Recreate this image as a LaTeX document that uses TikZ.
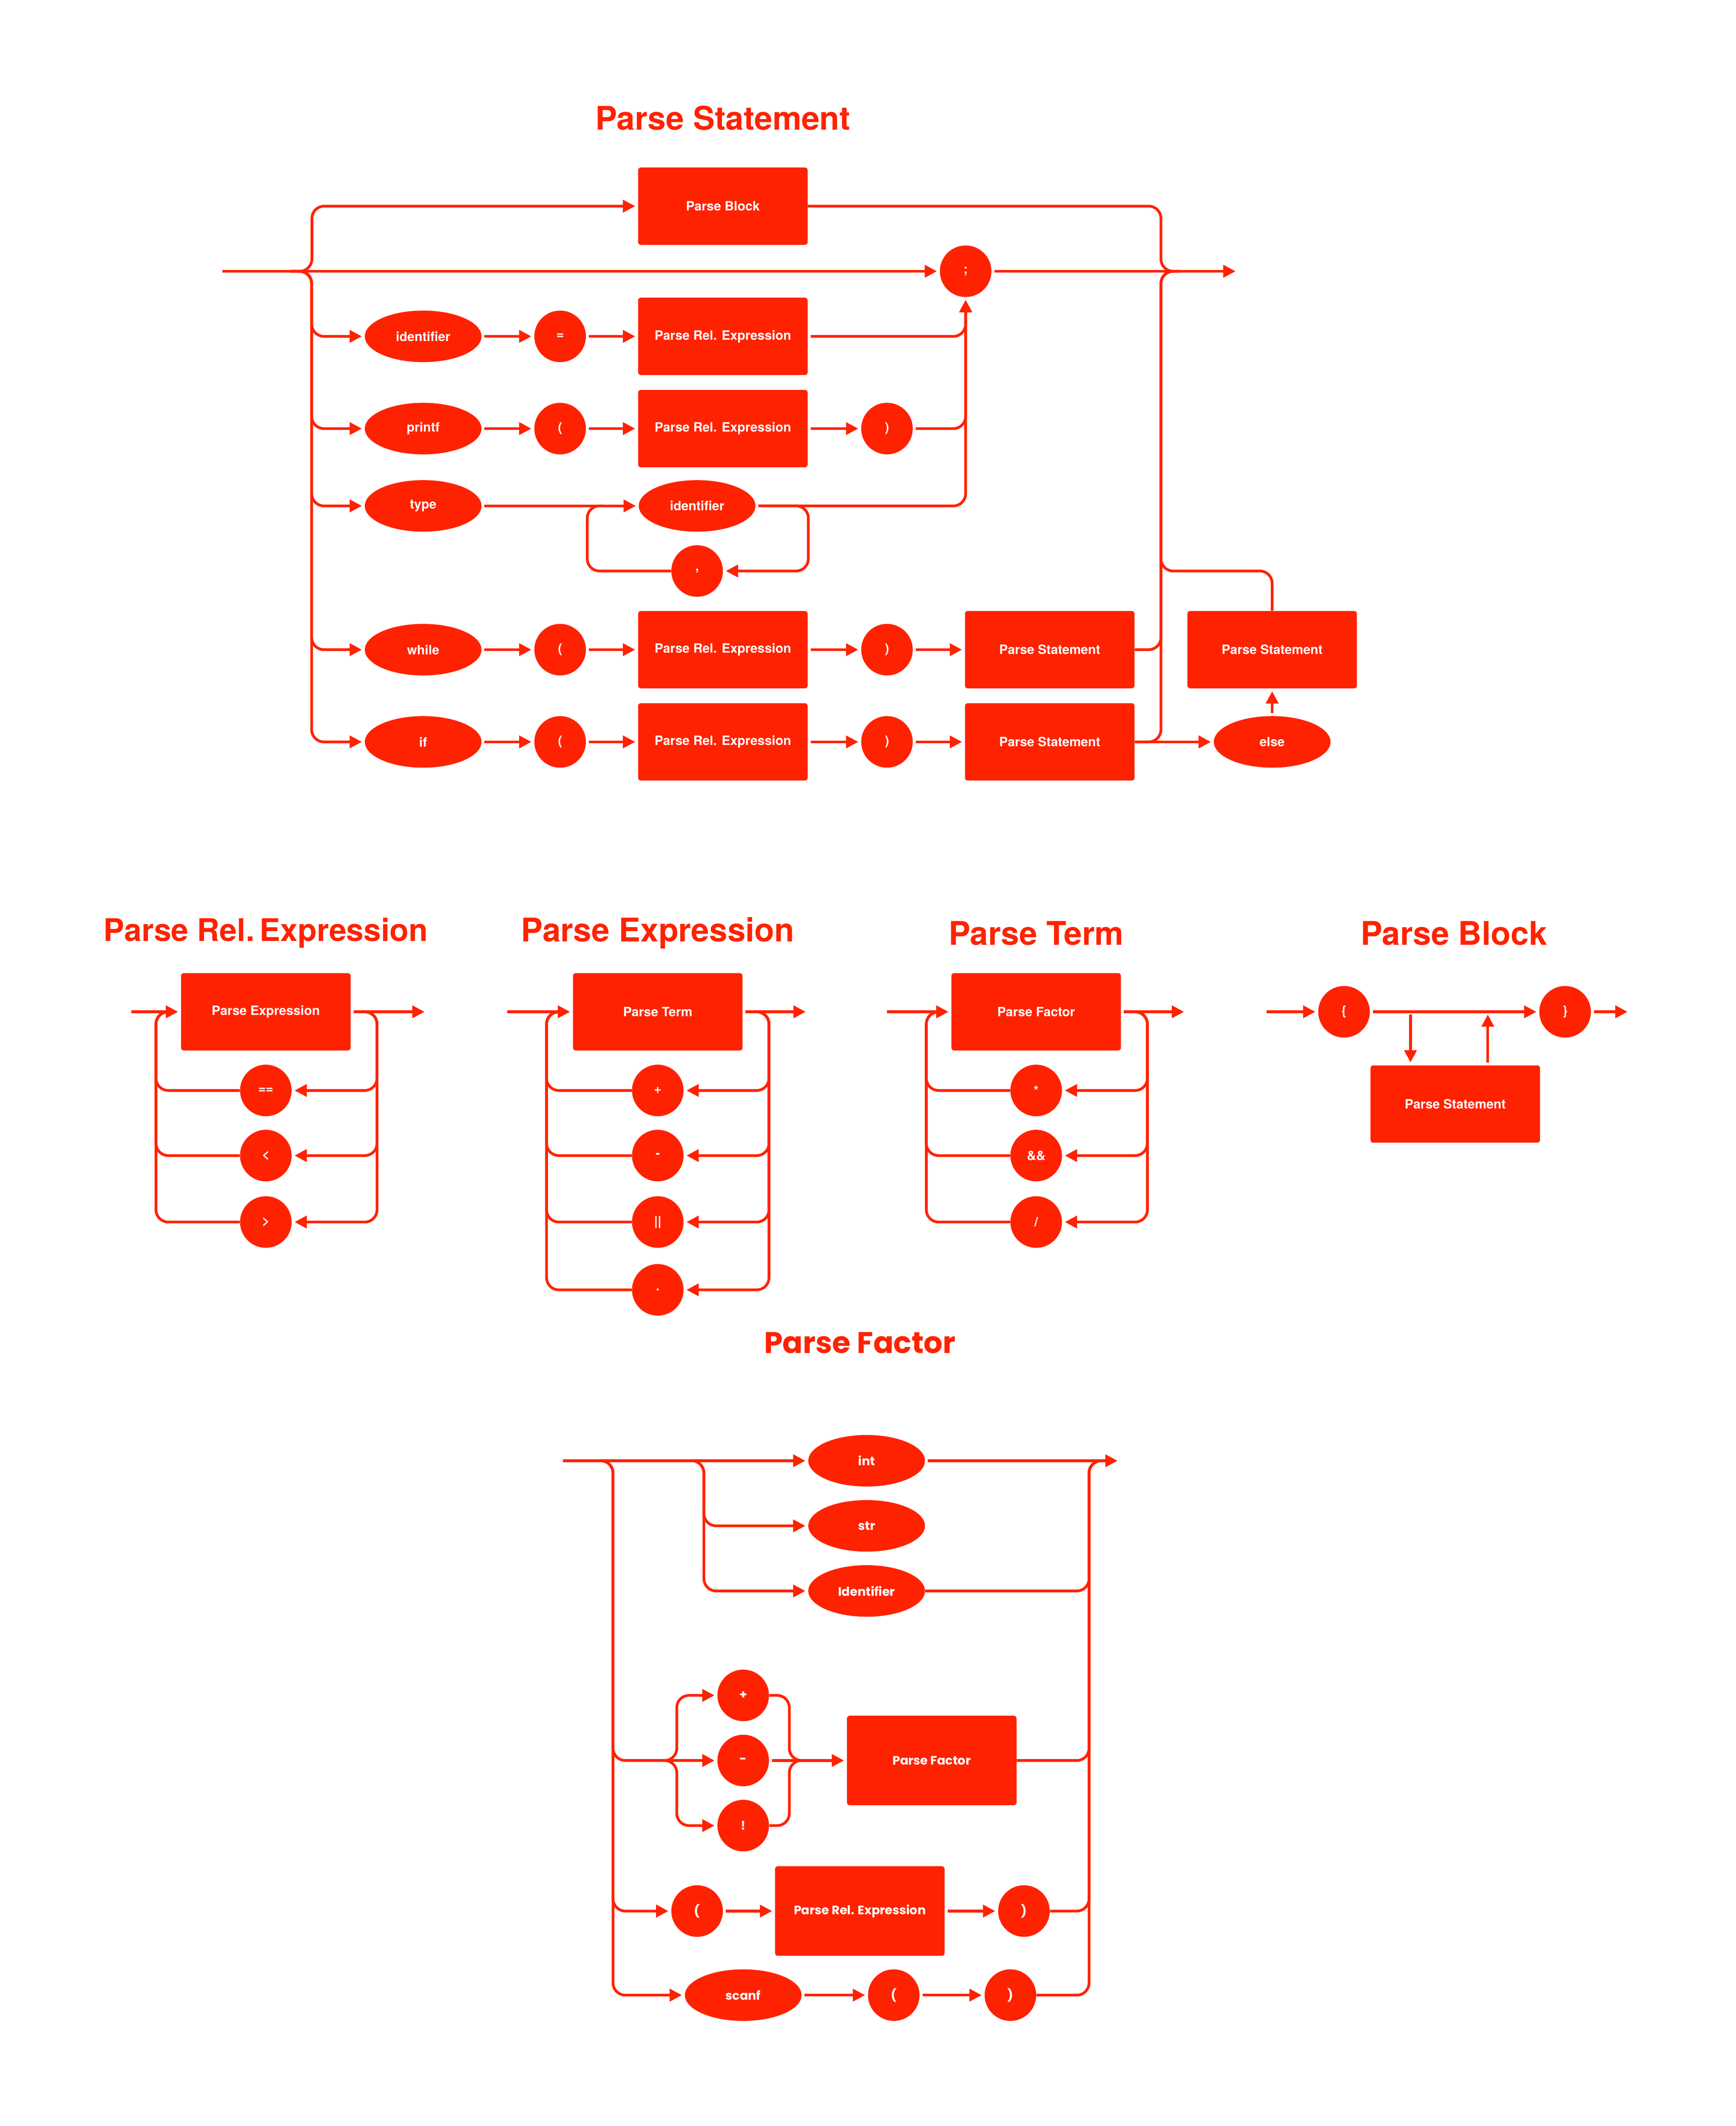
\documentclass[tikz,border=0pt]{standalone}
\usepackage{fontspec}
\setmainfont{TeX Gyre Heros}
\newfontfamily\factorfont{Poppins}
\usetikzlibrary{arrows.meta,shapes.geometric}
\definecolor{synred}{RGB}{255,34,0}
\begin{document}
\begin{tikzpicture}[x=1pt,y=-1pt,
    line/.style={draw=synred,line width=2pt,rounded corners=9pt},
    arr/.style={line,-{Triangle[length=9pt,width=9pt]},shorten >=2pt,shorten <=2pt},
    block/.style={fill=synred,rounded corners=2pt,minimum width=125pt,minimum height=57pt,inner sep=0pt,
        text=white,font=\bfseries\fontsize{9.5}{11}\selectfont},
    term/.style={ellipse,fill=synred,minimum width=86pt,minimum height=38pt,inner sep=0pt,
        text=white,font=\bfseries\fontsize{9.5}{11}\selectfont},
    tok/.style={circle,fill=synred,minimum size=38pt,inner sep=0pt,
        text=white,font=\bfseries\fontsize{9.5}{11}\selectfont},
    title/.style={text=synred,font=\bfseries\fontsize{24}{28}\selectfont},
    fblock/.style={block,minimum height=66pt,font=\factorfont\bfseries\fontsize{9}{11}\selectfont},
    fterm/.style={term,font=\factorfont\bfseries\fontsize{9}{11}\selectfont},
    ftok/.style={tok,font=\factorfont\bfseries\fontsize{9}{11}\selectfont}]
\useasboundingbox (0,0) rectangle (1280,1567.5);

% Parse Statement
\node[title] (stmttitle) at (533,87) {Parse Statement};
\node[block] (pblock) at (533,152) {Parse Block};
\node[tok] (semi) at (712,200) {;};
\node[term] (assignid) at (312,248) {identifier};
\node[tok] (assigneq) at (413,248) {=};
\node[block] (assignrel) at (533,248) {Parse Rel. Expression};
\node[term] (printkw) at (312,316) {printf};
\node[tok] (printlp) at (413,316) {(};
\node[block] (printrel) at (533,316) {Parse Rel. Expression};
\node[tok] (printrp) at (654,316) {)};
\node[term] (typekw) at (312,373) {type};
\node[term] (declid) at (514,373) {identifier};
\node[tok] (declcomma) at (514,421) {,};
\node[term] (whilekw) at (312,479) {while};
\node[tok] (whilelp) at (413,479) {(};
\node[block] (whilerel) at (533,479) {Parse Rel. Expression};
\node[tok] (whilerp) at (654,479) {)};
\node[block] (whilebody) at (774,479) {Parse Statement};
\node[term] (ifkw) at (312,547) {if};
\node[tok] (iflp) at (413,547) {(};
\node[block] (ifrel) at (533,547) {Parse Rel. Expression};
\node[tok] (ifrp) at (654,547) {)};
\node[block] (ifbody) at (774,547) {Parse Statement};
\node[term] (elsekw) at (938,547) {else};
\node[block] (elsebody) at (938,479) {Parse Statement};

\draw[arr] (162,200) -- (semi.west);
\draw[arr] (semi.east) -- (913,200);
\draw[arr] (212,200) -| (230,152) -- (pblock.west);
\draw[line] (pblock.east) -| (856,200) -- (870,200);
\foreach \n in {assignid,printkw,typekw,whilekw,ifkw}
    \draw[arr] (212,200) -| ([xshift=-39pt]\n.west) -- (\n.west);
\draw[arr] (assignid) -- (assigneq);
\draw[arr] (assigneq) -- (assignrel);
\draw[arr] (assignrel.east) -| (semi.south);
\draw[arr] (printkw) -- (printlp);
\draw[arr] (printlp) -- (printrel);
\draw[arr] (printrel) -- (printrp);
\draw[arr] (printrp.east) -| (semi.south);
\draw[arr] (typekw) -- (declid);
\draw[arr] (declid.east) -| (semi.south);
\draw[arr] (declid.east) -| (596,421) -- (declcomma.east);
\draw[line] (declcomma.west) -| (433,373) -- (445,373);
\draw[arr] (whilekw) -- (whilelp);
\draw[arr] (whilelp) -- (whilerel);
\draw[arr] (whilerel) -- (whilerp);
\draw[arr] (whilerp) -- (whilebody);
\draw[line] (whilebody.east) -| (856,200) -- (870,200);
\draw[arr] (ifkw) -- (iflp);
\draw[arr] (iflp) -- (ifrel);
\draw[arr] (ifrel) -- (ifrp);
\draw[arr] (ifrp) -- (ifbody);
\draw[line] (ifbody.east) -| (856,200) -- (870,200);
\draw[arr] (ifbody) -- (elsekw);
\draw[arr] (elsekw) -- (elsebody);
\draw[line] (elsebody.north) |- (856,421) |- (870,200);

% Parse Rel. Expression
\node[title,font=\bfseries\fontsize{23}{28}\selectfont] (reltitle) at (196,688) {Parse Rel.\,Expression};
\node[block] (relexpr) at (196,746) {Parse Expression};
\draw[arr] (95,746) -- (relexpr.west);
\draw[arr] (relexpr.east) -- (315,746);
\foreach \n/\t/\y in {releq/==/804, rellt/</852, relgt/>/901} {
    \node[tok] (\n) at (196,\y) {\t};
    \draw[arr] (268,746) -| (278,\y) -- (\n.east);
    \draw[line] (\n.west) -| (115,746) -- (125,746);
}

% Parse Expression
\node[title] (exprtitle) at (485,688) {Parse Expression};
\node[block] (exprterm) at (485,746) {Parse Term};
\draw[arr] (372,746) -- (exprterm.west);
\draw[arr] (exprterm.east) -- (596,746);
\foreach \n/\t/\y in {exprplus/+/804, exprminus/-/852, expror/||/901, exprdot/./951} {
    \node[tok] (\n) at (485,\y) {\t};
    \draw[arr] (557,746) -| (567,\y) -- (\n.east);
    \draw[line] (\n.west) -| (403,746) -- (413,746);
}

% Parse Term
\node[title] (termtitle) at (764,688) {Parse Term};
\node[block] (termfactor) at (764,746) {Parse Factor};
\draw[arr] (652,746) -- (termfactor.west);
\draw[arr] (termfactor.east) -- (875,746);
\foreach \n/\t/\y in {termmul/*/804, termand/\&\&/852, termdiv/\slash/901} {
    \node[tok] (\n) at (764,\y) {\t};
    \draw[arr] (836,746) -| (846,\y) -- (\n.east);
    \draw[line] (\n.west) -| (683,746) -- (693,746);
}

% Parse Block
\node[title] (blocktitle) at (1072,688) {Parse Block};
\node[tok] (lbrace) at (991,746) {\{};
\node[tok] (rbrace) at (1154,746) {\}};
\node[block] (blockstmt) at (1073,814) {Parse Statement};
\draw[arr] (932,746) -- (lbrace.west);
\draw[arr] (lbrace.east) -- (rbrace.west);
\draw[arr] (1040,746) -- (blockstmt.north -| 1040,0);
\draw[arr] (blockstmt.north -| 1097,0) -- (1097,746);
\draw[arr] (rbrace.east) -- (1202,746);

% Parse Factor
\node[title,font=\factorfont\bfseries\fontsize{22}{26}\selectfont] (factortitle) at (634,990) {Parse Factor};
\node[fterm] (fint) at (639,1077) {int};
\node[fterm] (fstr) at (639,1125) {str};
\node[fterm] (fident) at (639,1173) {Identifier};
\node[ftok] (fplus) at (548,1250) {+};
\node[ftok] (fminus) at (548,1298) {-};
\node[ftok] (fnot) at (548,1346) {!};
\node[fblock] (fsub) at (687,1298) {Parse Factor};
\node[ftok] (flp) at (514,1409) {(};
\node[fblock] (frel) at (634,1409) {Parse Rel. Expression};
\node[ftok] (frp) at (755,1409) {)};
\node[fterm] (fscanf) at (548,1471) {scanf};
\node[ftok] (fslp) at (659,1471) {(};
\node[ftok] (fsrp) at (745,1471) {)};

\draw[arr] (413,1077) -- (fint.west);
\draw[arr] (fint.east) -- (826,1077);
\draw[arr] (509,1077) -| (519,1125) -- (fstr.west);
\draw[arr] (509,1077) -| (519,1173) -- (fident.west);
\draw[line] (fident.east) -| (803,1077) -- (815,1077);
\draw[arr] (442,1077) -| (452,1298) -- (fminus.west);
\draw[arr] (489,1298) -| (499,1250) -- (fplus.west);
\draw[arr] (489,1298) -| (499,1346) -- (fnot.west);
\draw[line] (fplus.east) -| (582,1298) -- (595,1298);
\draw[line] (fnot.east) -| (582,1298) -- (595,1298);
\draw[arr] (fminus) -- (fsub);
\draw[line] (fsub.east) -| (803,1077) -- (815,1077);
\draw[arr] (442,1077) -| (452,1409) -- (flp.west);
\draw[arr] (flp) -- (frel);
\draw[arr] (frel) -- (frp);
\draw[line] (frp.east) -| (803,1077) -- (815,1077);
\draw[arr] (442,1077) -| (452,1471) -- (fscanf.west);
\draw[arr] (fscanf) -- (fslp);
\draw[arr] (fslp) -- (fsrp);
\draw[line] (fsrp.east) -| (803,1077) -- (815,1077);
\end{tikzpicture}
\end{document}
